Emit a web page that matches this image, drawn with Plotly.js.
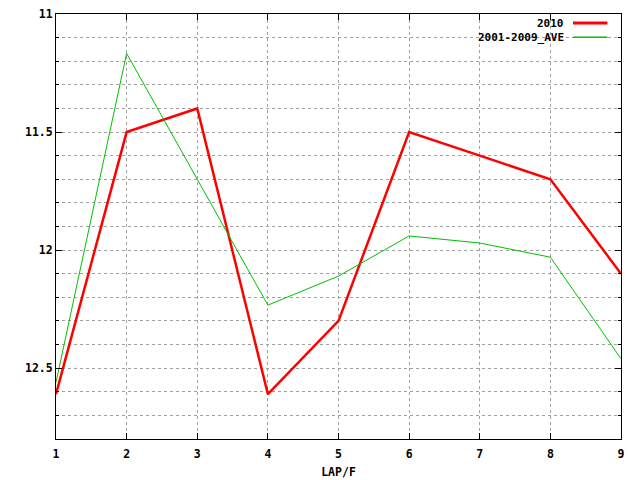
<!DOCTYPE html>
<html>
<head>
<meta charset="utf-8">
<script src="https://cdn.plot.ly/plotly-3.0.1.min.js"></script>
<style>html,body{margin:0;padding:0;background:#fff;}#chart{width:640px;height:480px;}</style>
</head>
<body>
<div id="chart"></div>
<script>
const laps = [1, 2, 3, 4, 5, 6, 7, 8, 9];
const series2010 = [12.61, 11.5, 11.4, 12.61, 12.30, 11.5, 11.6, 11.7, 12.1];
const seriesAve = [12.56, 11.167, 11.70, 12.233, 12.11, 11.94, 11.97, 12.03, 12.46];
const seriesNames = ['2010', '2001-2009_AVE'];
const seriesColors = ['#ff0000', '#00c000'];
const seriesWidths = [2.5, 1];
const yTicks = [11, 11.5, 12, 12.5];
const yTickText = ['11', '11.5', '12', '12.5'];
const xTitle = 'LAP/F';

const font = {family: 'DejaVu Sans Mono, Liberation Mono, monospace', size: 11.5, color: '#000', weight: 'bold'};
const legFont = Object.assign({}, font, {size: 11});

const traces = [series2010, seriesAve].map((vals, i) => ({
  x: laps, y: vals, type: 'scatter', mode: 'lines', name: seriesNames[i],
  line: {color: seriesColors[i], width: seriesWidths[i]}, showlegend: false, hoverinfo: 'skip'
}));

const annotations = [];
const shapes = [];
seriesNames.forEach((nm, i) => {
  const yp = 0.9788 - i * 0.0335;
  annotations.push({xref: 'paper', yref: 'paper', x: 0.901, y: yp, xanchor: 'right', yanchor: 'middle',
    text: '<b>' + nm + '</b>', showarrow: false, font: legFont, borderpad: 0});
  shapes.push({type: 'line', xref: 'paper', yref: 'paper', x0: 0.915, x1: 0.976, y0: yp, y1: yp,
    line: {color: seriesColors[i], width: seriesWidths[i] + 0.5}});
});

const layout = {
  width: 640, height: 480,
  margin: {l: 56, r: 19, t: 14, b: 41, pad: 0},
  paper_bgcolor: '#fff', plot_bgcolor: '#fff',
  font: font,
  showlegend: false,
  xaxis: {
    range: [1, 9], tickvals: laps, ticktext: laps.map(String),
    ticks: 'inside', ticklen: 6, tickcolor: '#000', mirror: 'ticks',
    showline: true, linecolor: '#000', linewidth: 1,
    showgrid: true, gridcolor: '#a0a0a0', griddash: 'dot', gridwidth: 1,
    zeroline: false, tickfont: font, ticklabelstandoff: 4,
    title: {text: '<b>' + xTitle + '</b>', font: font, standoff: 8}
  },
  yaxis: {
    range: [12.8, 11], tickvals: yTicks, ticktext: yTickText,
    ticks: 'inside', ticklen: 6, tickcolor: '#000', mirror: 'ticks',
    showline: true, linecolor: '#000', linewidth: 1,
    showgrid: true, gridcolor: '#a0a0a0', griddash: 'dot', gridwidth: 1,
    zeroline: false, tickfont: font,
    minor: {dtick: 0.1, tick0: 11, ticks: 'inside', ticklen: 3, tickcolor: '#000', showgrid: true, gridcolor: '#a0a0a0', griddash: 'dot', gridwidth: 1}
  },
  annotations: annotations,
  shapes: shapes
};

Plotly.newPlot('chart', traces, layout, {staticPlot: true, displayModeBar: false});
</script>
</body>
</html>
